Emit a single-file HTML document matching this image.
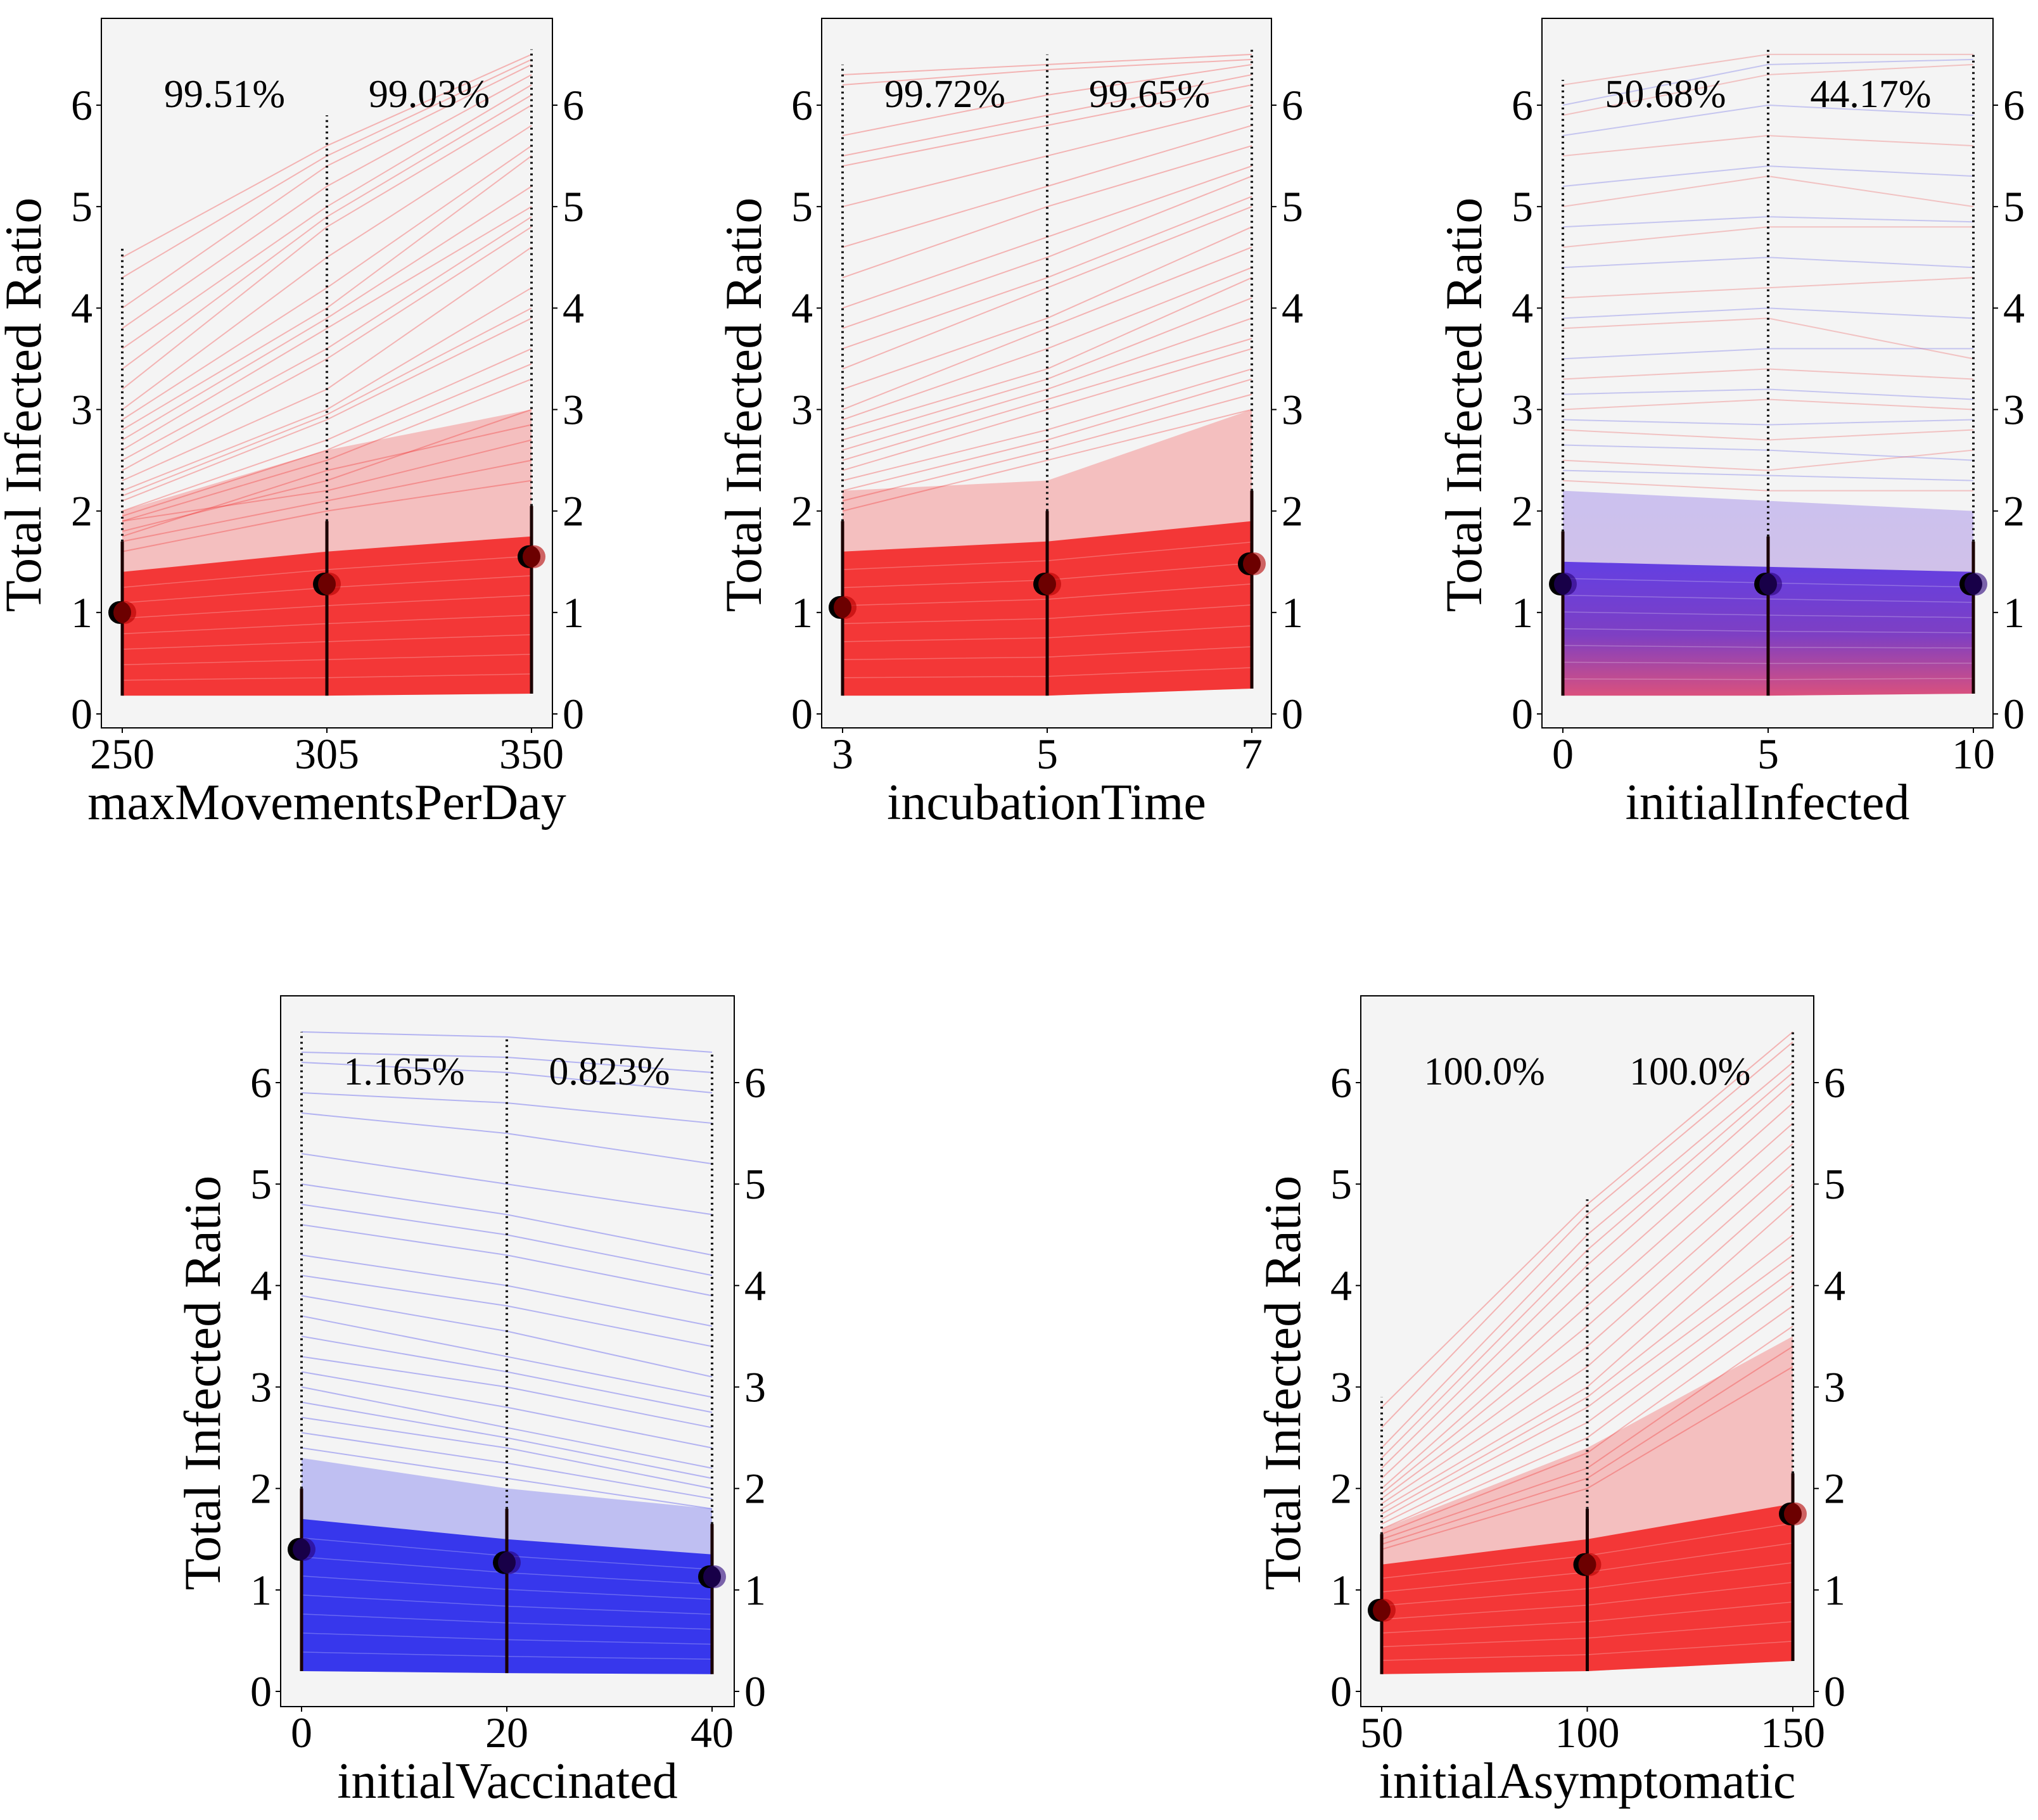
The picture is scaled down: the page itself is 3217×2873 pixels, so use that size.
<!DOCTYPE html>
<html><head><meta charset="utf-8"><style>
html,body{margin:0;padding:0;background:#fff;}
svg{display:block;}
text{font-family:"Liberation Serif","DejaVu Serif",serif;}
</style></head><body>
<svg id="fig" width="3217" height="2873" viewBox="0 0 3217 2873" font-family="Liberation Serif, serif"></svg>
<script>
// ---- data ----
const p1Ticks = ["250","305","350"];
const p1Means = [1.0, 1.28, 1.55];
const p1Max = [4.6, 5.9, 6.55];
const p1Min = [0.18, 0.18, 0.2];
const p1BandTop = [1.4, 1.6, 1.75];
const p1MidTop = [2.0, 2.6, 3.0];
const p1Pct = ["99.51%", "99.03%"];
const p1Lines = [[4.5,5.6,6.5],[4.3,5.5,6.45],[4.0,5.4,6.4],[3.8,5.2,6.3],[3.6,5.0,6.2],[3.4,4.9,6.1],[3.2,4.8,6.0],[3.0,4.5,5.8],[2.9,4.2,5.6],[2.8,4.0,5.5],[2.7,3.9,5.2],[2.6,3.8,5.0],[2.5,3.6,4.9],[2.4,3.5,4.8],[2.3,3.2,4.6],[2.2,3.0,4.2],[2.15,2.95,4.0],[2.1,2.9,3.9],[2.0,2.7,3.6],[1.95,2.6,3.45],[1.9,2.5,3.3],[1.8,2.3,3.0],[1.9,2.2,2.7],[1.7,2.1,2.5],[1.75,2.4,2.85],[1.6,2.0,2.3]];

const p2Ticks = ["3","5","7"];
const p2Means = [1.05, 1.28, 1.48];
const p2Max = [6.4, 6.5, 6.55];
const p2Min = [0.18, 0.18, 0.25];
const p2BandTop = [1.6, 1.7, 1.9];
const p2MidTop = [2.2, 2.3, 3.0];
const p2Pct = ["99.72%", "99.65%"];
const p2Lines = [[6.3,6.4,6.5],[6.2,6.35,6.45],[5.7,6.1,6.4],[5.5,5.9,6.3],[5.4,5.8,6.2],[5.0,5.5,6.0],[4.6,5.2,5.8],[4.3,5.0,5.6],[4.0,4.7,5.4],[3.8,4.5,5.3],[3.6,4.3,5.1],[3.4,4.2,5.0],[3.2,3.9,4.8],[3.0,3.8,4.6],[2.9,3.6,4.4],[2.8,3.4,4.3],[2.7,3.3,4.1],[2.6,3.2,3.9],[2.5,3.1,3.7],[2.4,3.0,3.6],[2.3,2.8,3.4],[2.2,2.7,3.3],[2.1,2.6,3.15],[2.0,2.5,3.0]];

const p3Ticks = ["0","5","10"];
const p3Means = [1.28, 1.28, 1.28];
const p3Max = [6.25, 6.55, 6.5];
const p3Min = [0.18, 0.18, 0.2];
const p3BandTop = [1.5, 1.45, 1.4];
const p3MidTop = [2.2, 2.1, 2.0];
const p3Pct = ["50.68%", "44.17%"];
const p3Lines = [[6.2,6.5,6.5],[6.0,6.4,6.45],[5.9,6.3,6.4],[5.7,6.0,5.9],[5.5,5.7,5.6],[5.2,5.4,5.3],[5.0,5.3,5.0],[4.8,4.9,4.85],[4.6,4.8,4.8],[4.4,4.5,4.4],[4.1,4.2,4.3],[3.9,4.0,3.9],[3.8,3.9,3.5],[3.5,3.6,3.6],[3.3,3.4,3.3],[3.15,3.2,3.1],[3.0,3.1,3.0],[2.9,2.85,2.9],[2.8,2.7,2.8],[2.65,2.6,2.5],[2.5,2.4,2.6],[2.4,2.35,2.3],[2.3,2.2,2.2]];

const p4Ticks = ["0","20","40"];
const p4Means = [1.4, 1.27, 1.13];
const p4Max = [6.5, 6.45, 6.3];
const p4Min = [0.2, 0.18, 0.17];
const p4BandTop = [1.7, 1.5, 1.35];
const p4MidTop = [2.3, 2.0, 1.8];
const p4Pct = ["1.165%", "0.823%"];
const p4Lines = [[6.5,6.45,6.3],[6.3,6.25,6.1],[6.2,6.1,5.9],[5.9,5.8,5.6],[5.7,5.5,5.2],[5.3,5.0,4.7],[5.0,4.7,4.3],[4.8,4.5,4.1],[4.6,4.3,3.9],[4.3,4.0,3.6],[4.1,3.8,3.4],[3.9,3.55,3.1],[3.7,3.3,2.9],[3.5,3.15,2.75],[3.3,3.0,2.6],[3.15,2.8,2.4],[3.0,2.6,2.2],[2.85,2.5,2.1],[2.7,2.4,2.0],[2.55,2.25,1.9],[2.4,2.1,1.8]];

const p6Ticks = ["50","100","150"];
const p6Means = [0.8, 1.25, 1.75];
const p6Max = [2.9, 4.85, 6.5];
const p6Min = [0.17, 0.2, 0.3];
const p6BandTop = [1.25, 1.5, 1.85];
const p6MidTop = [1.6, 2.4, 3.5];
const p6Pct = ["100.0%", "100.0%"];
const p6Lines = [[2.8,4.8,6.5],[2.6,4.7,6.4],[2.4,4.5,6.2],[2.3,4.35,6.1],[2.2,4.2,6.0],[2.1,4.0,5.8],[2.0,3.8,5.6],[1.95,3.6,5.4],[1.9,3.4,5.2],[1.85,3.2,5.0],[1.8,3.0,4.8],[1.75,2.9,4.5],[1.7,2.8,4.3],[1.65,2.65,4.15],[1.6,2.5,4.0],[1.55,2.35,3.8],[1.5,2.2,3.6],[1.45,2.1,3.4],[1.4,2.0,3.2]];

const yTicks = [0,1,2,3,4,5,6];

// ---- layout ----
const NS = "http://www.w3.org/2000/svg";
const svg = document.getElementById('fig');
function mk(tag, attrs, parent){
  const e = document.createElementNS(NS, tag);
  for (const k in attrs) e.setAttribute(k, attrs[k]);
  (parent||svg).appendChild(e);
  return e;
}
const FF = "Liberation Serif, serif";
const panels = [
 {id:'max-movements', L:160,R:872,T:29,B:1149, x0:193,x1:839, y0:1127,y6:166, xl:"maxMovementsPerDay", ticks:p1Ticks, means:p1Means, max:p1Max, min:p1Min, band:p1BandTop, mid:p1MidTop, pct:p1Pct, lines:p1Lines, mode:'red'},
 {id:'incubation-time', L:1297,R:2007,T:29,B:1149, x0:1330,x1:1976, y0:1127,y6:166, xl:"incubationTime", ticks:p2Ticks, means:p2Means, max:p2Max, min:p2Min, band:p2BandTop, mid:p2MidTop, pct:p2Pct, lines:p2Lines, mode:'red'},
 {id:'initial-infected', L:2434,R:3146,T:29,B:1149, x0:2467,x1:3115, y0:1127,y6:166, xl:"initialInfected", ticks:p3Ticks, means:p3Means, max:p3Max, min:p3Min, band:p3BandTop, mid:p3MidTop, pct:p3Pct, lines:p3Lines, mode:'mix'},
 {id:'initial-vaccinated', L:443,R:1159,T:1572,B:2694, x0:476,x1:1124, y0:2670,y6:1709, xl:"initialVaccinated", ticks:p4Ticks, means:p4Means, max:p4Max, min:p4Min, band:p4BandTop, mid:p4MidTop, pct:p4Pct, lines:p4Lines, mode:'blue'},
 {id:'initial-asymptomatic', L:2148,R:2863,T:1572,B:2694, x0:2181,x1:2830, y0:2670,y6:1709, xl:"initialAsymptomatic", ticks:p6Ticks, means:p6Means, max:p6Max, min:p6Min, band:p6BandTop, mid:p6MidTop, pct:p6Pct, lines:p6Lines, mode:'red'}
];
const defs = mk('defs',{});
const gm = mk('linearGradient',{id:'mixg',x1:0,y1:0,x2:0,y2:1},defs);
mk('stop',{offset:'0','stop-color':'rgb(80,40,225)'},gm);
mk('stop',{offset:'0.55','stop-color':'rgb(110,40,190)'},gm);
mk('stop',{offset:'1','stop-color':'rgb(215,60,110)'},gm);

panels.forEach(p=>{
  const g = mk('g',{});
  
  
  const xs = i => p.x0 + (p.x1-p.x0)*i/2;
  const ys = v => p.y0 + (p.y6-p.y0)*v/6;
  const bg = mk('rect',{x:p.L,y:p.T,width:p.R-p.L,height:p.B-p.T,fill:'#f4f4f4'},g);
  
  
  const main = p.mode==='blue' ? 'rgb(30,30,235)' : 'rgb(242,30,30)';
  const fillBand = p.mode==='mix' ? 'url(#mixg)' : main;
  p.lines.forEach((l,k)=>{
    const col = p.mode==='mix' ? (k%2 ? 'rgb(90,90,230)' : 'rgb(235,80,80)') : main;
    const pl = mk('polyline',{points:l.map((v,i)=>xs(i)+','+ys(v)).join(' '),fill:'none',stroke:col,'stroke-width':2,'stroke-opacity':0.3},g);
    
    
  });
  const midPts = [0,1,2].map(i=>xs(i)+','+ys(p.mid[i])).concat([2,1,0].map(i=>xs(i)+','+ys(p.min[i])));
  const mr = mk('polygon',{points:midPts.join(' '),fill:fillBand,'fill-opacity':0.25},g);
  
  
  const bandPts = [0,1,2].map(i=>xs(i)+','+ys(p.band[i])).concat([2,1,0].map(i=>xs(i)+','+ys(p.min[i])));
  const br = mk('polygon',{points:bandPts.join(' '),fill:fillBand,'fill-opacity':0.85},g);
  
  
  for (let t=1;t<8;t++){
    const f=t/8;
    const tl = mk('polyline',{points:[0,1,2].map(i=>xs(i)+','+ys(p.min[i]+(p.band[i]-p.min[i])*f)).join(' '),fill:'none',stroke:'#fff','stroke-width':1.5,'stroke-opacity':0.25},g);
    
    
  }
  [0,1,2].forEach(i=>{
    const sv = mk('line',{x1:xs(i),x2:xs(i),y1:ys(p.min[i]),y2:ys(p.band[i]+0.3),stroke:'#1a0000','stroke-width':5},g);
    
    
    const dv = mk('line',{x1:xs(i),x2:xs(i),y1:ys(p.band[i]+0.3),y2:ys(p.max[i]),stroke:'#111','stroke-width':4,'stroke-dasharray':'3 6'},g);
    
    
  });
  p.means.forEach((m,i)=>{
    const c = mk('circle',{cx:xs(i)-4,cy:ys(m),r:18,fill:'#000'},g);
    
    
    const c2 = mk('circle',{cx:xs(i)+4,cy:ys(m),r:18,fill:p.mode==='red'?'rgb(180,0,0)':'rgb(40,0,120)','fill-opacity':0.6},g);
    
    
  });
  const fr = mk('rect',{x:p.L,y:p.T,width:p.R-p.L,height:p.B-p.T,fill:'none',stroke:'#000','stroke-width':2},g);
  
  
  yTicks.forEach(v=>{
    mk('line',{x1:p.L-8,x2:p.L,y1:ys(v),y2:ys(v),stroke:'#000','stroke-width':2},g);
    const tl = mk('text',{x:p.L-14,y:ys(v)+23,'font-size':68,'font-family':FF,'text-anchor':'end',fill:'#000'},g);
    tl.textContent = v;
    
    
    mk('line',{x1:p.R,x2:p.R+8,y1:ys(v),y2:ys(v),stroke:'#000','stroke-width':2},g);
    const tr = mk('text',{x:p.R+16,y:ys(v)+23,'font-size':68,'font-family':FF,'text-anchor':'start',fill:'#000'},g);
    tr.textContent = v;
    
    
  });
  p.ticks.forEach((t,i)=>{
    mk('line',{x1:xs(i),x2:xs(i),y1:p.B,y2:p.B+8,stroke:'#000','stroke-width':2},g);
    const tx = mk('text',{x:xs(i),y:p.B+64,'font-size':68,'font-family':FF,'text-anchor':'middle',fill:'#000'},g);
    tx.textContent = t;
    
    
  });
  p.pct.forEach((t,i)=>{
    const pt = mk('text',{x:(xs(i)+xs(i+1))/2,y:p.T+140,'font-size':62,'font-family':FF,'text-anchor':'middle',fill:'#000'},g);
    pt.textContent = t;
    
    
  });
  const xl = mk('text',{x:(p.L+p.R)/2,y:p.B+144,'font-size':80,'font-family':FF,'text-anchor':'middle',fill:'#000'},g);
  xl.textContent = p.xl;
  
  
  const yc = (p.T+p.B)/2+50, yx = p.L-96;
  const yl = mk('text',{x:yx,y:yc,'font-size':82,'font-family':FF,'text-anchor':'middle',fill:'#000',transform:'rotate(-90 '+yx+' '+yc+')'},g);
  yl.textContent = 'Total Infected Ratio';
  
  
});
</script>
</body></html>
